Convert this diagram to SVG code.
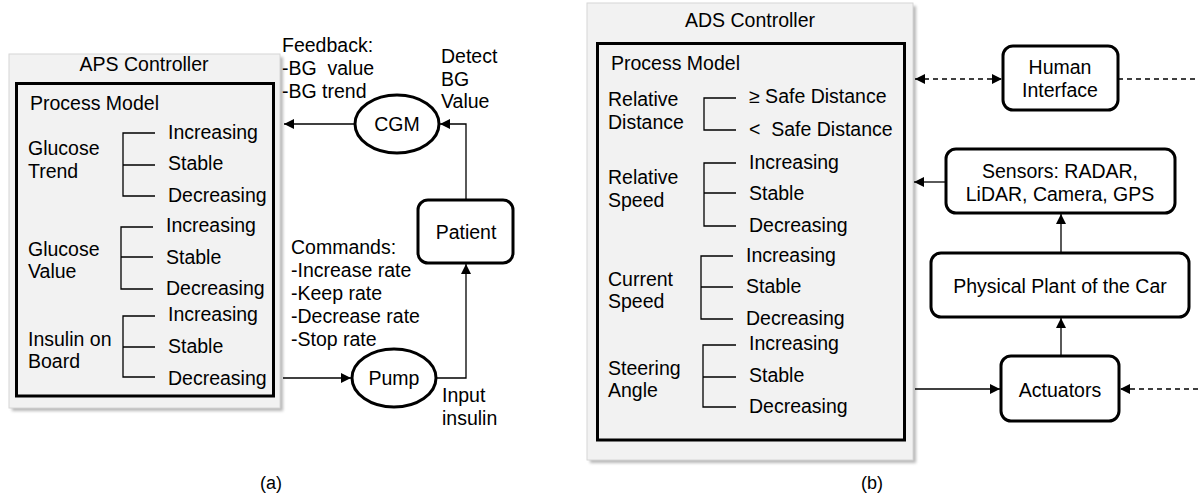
<svg xmlns="http://www.w3.org/2000/svg" width="1198" height="494" viewBox="0 0 1198 494">
  <defs>
    <style>
      text { font-family: "Liberation Sans", Arial, sans-serif; font-size: 19.5px; fill: #000; }
      .c { text-anchor: middle; }
      .cap { font-size: 18px; }
      .panel { fill: #f2f2f2; stroke: #d6d6d6; stroke-width: 1; }
      .shadow { fill: #b8b8b8; }
      .model { fill: none; stroke: #000; stroke-width: 3; }
      .node { fill: #fff; stroke: #000; stroke-width: 3; }
      .br { fill: none; stroke: #000; stroke-width: 1.3; }
      .wire { fill: none; stroke: #000; stroke-width: 1.3; }
      .dash { stroke-dasharray: 5 4; }
    </style>
    <filter id="soft" x="-5%" y="-5%" width="110%" height="110%">
      <feGaussianBlur stdDeviation="1.5"/>
    </filter>
    <marker id="ah" viewBox="0 0 10 10" refX="10" refY="5" markerWidth="10" markerHeight="10" markerUnits="userSpaceOnUse" orient="auto-start-reverse">
      <path d="M0,0 L10,5 L0,10 z" fill="#000"/>
    </marker>
  </defs>

  <!-- (a) APS controller -->
  <g id="aps-controller">
    <rect class="shadow" x="12" y="57" width="271" height="354" filter="url(#soft)"/>
    <rect class="panel" x="9" y="54" width="271" height="354"/>
    <text class="c" x="144" y="71">APS Controller</text>
    <rect class="model" x="16.5" y="83.5" width="257" height="312.5"/>
    <text x="30" y="110">Process Model</text>

    <g id="glucose-trend">
      <text x="28" y="155">Glucose</text>
      <text x="28" y="178">Trend</text>
      <path class="br" d="M155,133 H123 V196 H155 M123,165 H155"/>
      <text x="168" y="139">Increasing</text>
      <text x="168" y="170">Stable</text>
      <text x="168" y="202">Decreasing</text>
    </g>
    <g id="glucose-value">
      <text x="28" y="256">Glucose</text>
      <text x="28" y="278">Value</text>
      <path class="br" d="M153,227 H121 V289 H153 M121,257 H153"/>
      <text x="166" y="232">Increasing</text>
      <text x="166" y="264">Stable</text>
      <text x="166" y="295">Decreasing</text>
    </g>
    <g id="insulin-on-board">
      <text x="28" y="346">Insulin on</text>
      <text x="28" y="368">Board</text>
      <path class="br" d="M155,316 H123 V377 H155 M123,347 H155"/>
      <text x="168" y="321">Increasing</text>
      <text x="168" y="353">Stable</text>
      <text x="168" y="385">Decreasing</text>
    </g>
  </g>

  <g id="cgm">
    <ellipse class="node" cx="397" cy="124" rx="42" ry="29"/>
    <text class="c" x="397" y="131">CGM</text>
  </g>
  <g id="patient">
    <rect class="node" x="418" y="200" width="95" height="63" rx="10"/>
    <text class="c" x="466" y="239">Patient</text>
  </g>
  <g id="pump">
    <ellipse class="node" cx="394" cy="378" rx="42" ry="29"/>
    <text class="c" x="394" y="385">Pump</text>
  </g>

  <g id="labels-a">
    <text x="282" y="52">Feedback:</text>
    <text x="282" y="75" xml:space="preserve">-BG  value</text>
    <text x="282" y="98">-BG trend</text>
    <text x="441" y="63">Detect</text>
    <text x="441" y="86">BG</text>
    <text x="441" y="108">Value</text>
    <text x="291" y="254">Commands:</text>
    <text x="291" y="277">-Increase rate</text>
    <text x="291" y="300">-Keep rate</text>
    <text x="291" y="323">-Decrease rate</text>
    <text x="291" y="346">-Stop rate</text>
    <text x="442" y="402">Input</text>
    <text x="442" y="425">insulin</text>
    <text class="c cap" x="271" y="489">(a)</text>
  </g>

  <!-- (b) ADS controller -->
  <g id="ads-controller">
    <rect class="shadow" x="590" y="6" width="326" height="457" filter="url(#soft)"/>
    <rect class="panel" x="587" y="3" width="326" height="457"/>
    <text class="c" x="750" y="27">ADS Controller</text>
    <rect class="model" x="597.5" y="43.5" width="307" height="396.5"/>
    <text x="611" y="70">Process Model</text>

    <g id="relative-distance">
      <text x="608" y="106">Relative</text>
      <text x="608" y="129">Distance</text>
      <path class="br" d="M736,98 H704 V130 H736"/>
      <text x="749" y="103">≥ Safe Distance</text>
      <text x="749" y="136" xml:space="preserve">&lt;  Safe Distance</text>
    </g>
    <g id="relative-speed">
      <text x="608" y="184">Relative</text>
      <text x="608" y="207">Speed</text>
      <path class="br" d="M736,163 H704 V226 H736 M704,193 H736"/>
      <text x="749" y="169">Increasing</text>
      <text x="749" y="200">Stable</text>
      <text x="749" y="232">Decreasing</text>
    </g>
    <g id="current-speed">
      <text x="608" y="286">Current</text>
      <text x="608" y="308">Speed</text>
      <path class="br" d="M733,256 H701 V319 H733 M701,287 H733"/>
      <text x="746" y="262">Increasing</text>
      <text x="746" y="293">Stable</text>
      <text x="746" y="325">Decreasing</text>
    </g>
    <g id="steering-angle">
      <text x="608" y="375">Steering</text>
      <text x="608" y="397">Angle</text>
      <path class="br" d="M736,345 H703 V407 H736 M703,377 H736"/>
      <text x="749" y="350">Increasing</text>
      <text x="749" y="382">Stable</text>
      <text x="749" y="413">Decreasing</text>
    </g>
  </g>

  <g id="human-interface">
    <rect class="node" x="1003" y="46" width="115" height="64" rx="10"/>
    <text class="c" x="1060" y="74">Human</text>
    <text class="c" x="1060" y="97">Interface</text>
  </g>
  <g id="sensors">
    <rect class="node" x="946" y="149" width="229" height="64" rx="10"/>
    <text class="c" x="1060" y="178">Sensors: RADAR,</text>
    <text class="c" x="1060" y="201">LiDAR, Camera, GPS</text>
  </g>
  <g id="physical-plant">
    <rect class="node" x="931" y="253" width="258" height="64" rx="10"/>
    <text class="c" x="1060" y="293">Physical Plant of the Car</text>
  </g>
  <g id="actuators">
    <rect class="node" x="1001" y="356" width="118" height="65" rx="10"/>
    <text class="c" x="1060" y="397">Actuators</text>
  </g>
  <text class="c cap" x="872" y="489">(b)</text>

  <!-- connectors -->
  <g id="connectors">
    <path class="wire" d="M355,124 H284" marker-end="url(#ah)"/>
    <path class="wire" d="M466,200 V124 H440" marker-end="url(#ah)"/>
    <path class="wire" d="M283,378 H351" marker-end="url(#ah)"/>
    <path class="wire" d="M437,378 H466 V264" marker-end="url(#ah)"/>

    <path class="wire dash" d="M915,79 H1002" marker-start="url(#ah)" marker-end="url(#ah)"/>
    <path class="wire dash" d="M1118,79 H1198"/>
    <path class="wire" d="M946,182 H914" marker-end="url(#ah)"/>
    <path class="wire" d="M1061,253 V214" marker-end="url(#ah)"/>
    <path class="wire" d="M1061,356 V318" marker-end="url(#ah)"/>
    <path class="wire" d="M915,389 H1000" marker-end="url(#ah)"/>
    <path class="wire dash" d="M1198,389 H1120" marker-end="url(#ah)"/>
  </g>
</svg>
